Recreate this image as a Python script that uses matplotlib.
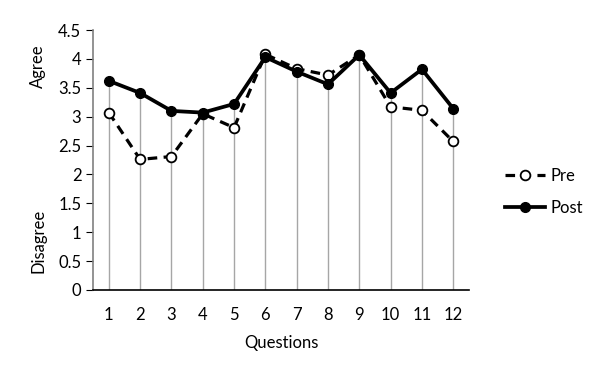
import matplotlib
matplotlib.use('Agg')
import matplotlib.pyplot as plt

plt.rcParams['font.family'] = ['Lato', 'DejaVu Sans']

questions = [1, 2, 3, 4, 5, 6, 7, 8, 9, 10, 11, 12]
pre = [3.07, 2.26, 2.31, 3.05, 2.81, 4.08, 3.83, 3.72, 4.07, 3.17, 3.11, 2.57]
post = [3.62, 3.41, 3.10, 3.07, 3.22, 4.03, 3.78, 3.56, 4.07, 3.41, 3.82, 3.14]
yticks = [0, 0.5, 1, 1.5, 2, 2.5, 3, 3.5, 4, 4.5]

fig = plt.figure(figsize=(6.05, 3.8), dpi=100)
ax = fig.add_axes([0.154, 0.237, 0.621, 0.684])

# drop lines to the higher point
tops = [max(a, b) for a, b in zip(pre, post)]
ax.vlines(questions, 0, tops, color='#a6a6a6', lw=1, zorder=1)

ax.plot(questions, pre, ls=(0, (3, 2)), color='black', lw=2.3, marker='o',
        ms=7, mfc='white', mec='black', mew=1.3, label='Pre', zorder=3)
ax.plot(questions, post, ls='-', color='black', lw=2.7, marker='o',
        ms=7, mfc='black', mec='black', label='Post', zorder=4)

ax.set_xlim(0.5, 12.5)
ax.set_ylim(0, 4.5)
ax.set_xticks(questions)
ax.set_yticks(yticks)
ax.set_yticklabels([f'{v:g}' for v in yticks])
ax.tick_params(axis='x', length=0, pad=12, labelsize=12)
ax.tick_params(axis='y', direction='out', length=5, color='black', labelsize=12)
for s in ['top', 'right']:
    ax.spines[s].set_visible(False)
ax.spines['left'].set_color('#808080')
ax.spines['left'].set_linewidth(1.2)
ax.spines['bottom'].set_color('black')
ax.spines['bottom'].set_linewidth(1.2)

ax.set_xlabel('Questions', fontsize=12, labelpad=9)
fig.text(0.063, 0.825, 'Agree', rotation=90, ha='center', va='center', fontsize=12)
fig.text(0.063, 0.365, 'Disagree', rotation=90, ha='center', va='center', fontsize=12)

fig.legend(loc='center left', bbox_to_anchor=(0.81, 0.495), frameon=False,
           fontsize=12, handlelength=2.4, labelspacing=1.0, handletextpad=0.35)

fig.savefig('out.png', dpi=100)
